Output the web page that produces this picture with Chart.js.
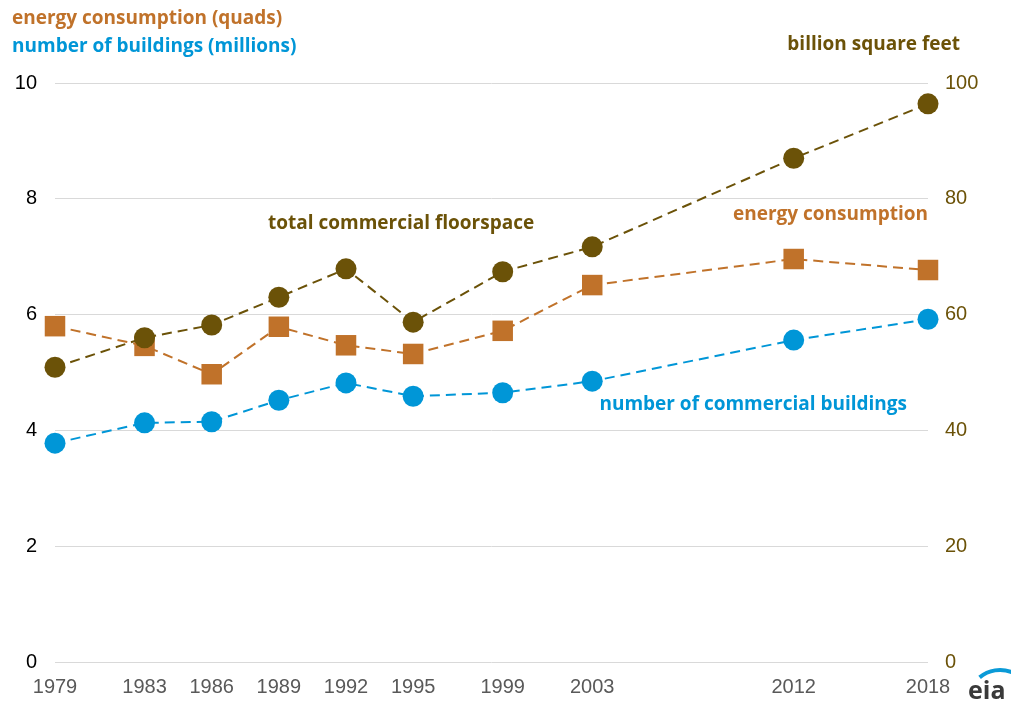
<!DOCTYPE html>
<html>
<head>
<meta charset="utf-8">
<script src="https://cdn.jsdelivr.net/npm/chart.js@4"></script>
<style>
  html, body { margin: 0; padding: 0; background: #fff; }
  #wrap { width: 1011px; height: 701px; }
</style>
</head>
<body>
<div id="wrap"><canvas id="chart" width="1011" height="701"></canvas></div>
<script>
// survey years and values
const years = [1979, 1983, 1986, 1989, 1992, 1995, 1999, 2003, 2012, 2018];
const floorspace = [50.9, 56.0, 58.2, 63.0, 67.9, 58.7, 67.4, 71.7, 87.0, 96.4];   // billion sq ft
const energy = [5.80, 5.46, 4.97, 5.79, 5.47, 5.32, 5.72, 6.51, 6.96, 6.77];        // quads
const buildings = [3.78, 4.13, 4.15, 4.52, 4.82, 4.59, 4.65, 4.85, 5.56, 5.92];     // millions
const leftTicks = [0, 2, 4, 6, 8, 10];
const rightTicks = [0, 20, 40, 60, 80, 100];

const BROWN = '#6b5208';
const ORANGE = '#c0722a';
const BLUE = '#0096d7';

const toPoints = (vals) => vals.map((v, i) => ({ x: years[i], y: v }));

// header texts, in-chart labels and the eia logo
const labelsPlugin = {
    id: 'labels',
    afterDraw(chart) {
        const ctx = chart.ctx;
        const area = chart.chartArea;
        ctx.save();
        ctx.font = 'bold 19px "Open Sans", sans-serif';
        ctx.textBaseline = 'alphabetic';
        ctx.textAlign = 'left';
        ctx.fillStyle = ORANGE;
        ctx.fillText('energy consumption (quads)', 12, 24);
        ctx.fillStyle = BLUE;
        ctx.fillText('number of buildings (millions)', 12, 52);
        ctx.fillStyle = BROWN;
        ctx.textAlign = 'right';
        ctx.fillText('billion square feet', 960, 50);

        ctx.fillStyle = BROWN;
        ctx.textAlign = 'left';
        ctx.fillText('total commercial floorspace', 268, 229);
        ctx.fillStyle = ORANGE;
        ctx.textAlign = 'right';
        ctx.fillText('energy consumption', area.right, 220);
        ctx.fillStyle = BLUE;
        ctx.fillText('number of commercial buildings', 907, 410);

        // eia logo
        ctx.strokeStyle = '#0a9ad7';
        ctx.lineWidth = 4;
        ctx.beginPath();
        ctx.arc(1000, 702, 32, Math.PI * 1.28, Math.PI * 1.62);
        ctx.stroke();
        ctx.fillStyle = '#3a3a3a';
        ctx.font = 'bold 25px "Open Sans", sans-serif';
        ctx.textAlign = 'left';
        ctx.fillText('eia', 968, 699);
        ctx.restore();
    }
};

const tickFont = { family: '"Liberation Sans", Arial, sans-serif', size: 20 };

const ctx = document.getElementById('chart').getContext('2d');
new Chart(ctx, {
    type: 'line',
    data: {
        datasets: [
            {
                label: 'floorspace',
                data: toPoints(floorspace),
                yAxisID: 'y2',
                borderColor: BROWN,
                backgroundColor: BROWN,
                borderWidth: 2,
                borderDash: [10, 6],
                pointStyle: 'circle',
                pointRadius: 10.5,
                pointHoverRadius: 10.5,
                pointBorderWidth: 0,
                clip: false,
                order: 1
            },
            {
                label: 'energy',
                data: toPoints(energy),
                yAxisID: 'y',
                borderColor: ORANGE,
                backgroundColor: ORANGE,
                borderWidth: 2,
                borderDash: [10, 6],
                pointStyle: 'rect',
                pointRadius: 14.5,
                pointHoverRadius: 14.5,
                pointBorderWidth: 0,
                clip: false,
                order: 2
            },
            {
                label: 'buildings',
                data: toPoints(buildings),
                yAxisID: 'y',
                borderColor: BLUE,
                backgroundColor: BLUE,
                borderWidth: 2,
                borderDash: [10, 6],
                pointStyle: 'circle',
                pointRadius: 10.5,
                pointHoverRadius: 10.5,
                pointBorderWidth: 0,
                clip: false,
                order: 3
            }
        ]
    },
    options: {
        responsive: false,
        animation: false,
        layout: { padding: { top: 83, left: 0, right: 0, bottom: 0 } },
        plugins: {
            legend: { display: false },
            tooltip: { enabled: false }
        },
        scales: {
            x: {
                type: 'linear',
                min: 1979,
                max: 2018,
                afterBuildTicks: (axis) => { axis.ticks = years.map(v => ({ value: v })); },
                afterFit: (axis) => { axis.height = 39; },
                grid: { display: false, drawTicks: false },
                border: { display: false },
                ticks: {
                    autoSkip: false,
                    maxRotation: 0,
                    padding: 13,
                    color: '#595959',
                    font: tickFont,
                    callback: (v) => String(v)
                }
            },
            y: {
                position: 'left',
                min: 0,
                max: 10,
                afterBuildTicks: (axis) => { axis.ticks = leftTicks.map(v => ({ value: v })); },
                afterFit: (axis) => { axis.width = 55; },
                grid: { color: '#d9d9d9', lineWidth: 1, drawTicks: false },
                border: { display: false },
                ticks: {
                    padding: 18,
                    color: '#000',
                    font: tickFont
                }
            },
            y2: {
                position: 'right',
                min: 0,
                max: 100,
                afterBuildTicks: (axis) => { axis.ticks = rightTicks.map(v => ({ value: v })); },
                afterFit: (axis) => { axis.width = 83; },
                grid: { display: false, drawTicks: false },
                border: { display: false },
                ticks: {
                    padding: 17,
                    color: BROWN,
                    font: tickFont
                }
            }
        }
    },
    plugins: [labelsPlugin]
});
</script>
</body>
</html>
